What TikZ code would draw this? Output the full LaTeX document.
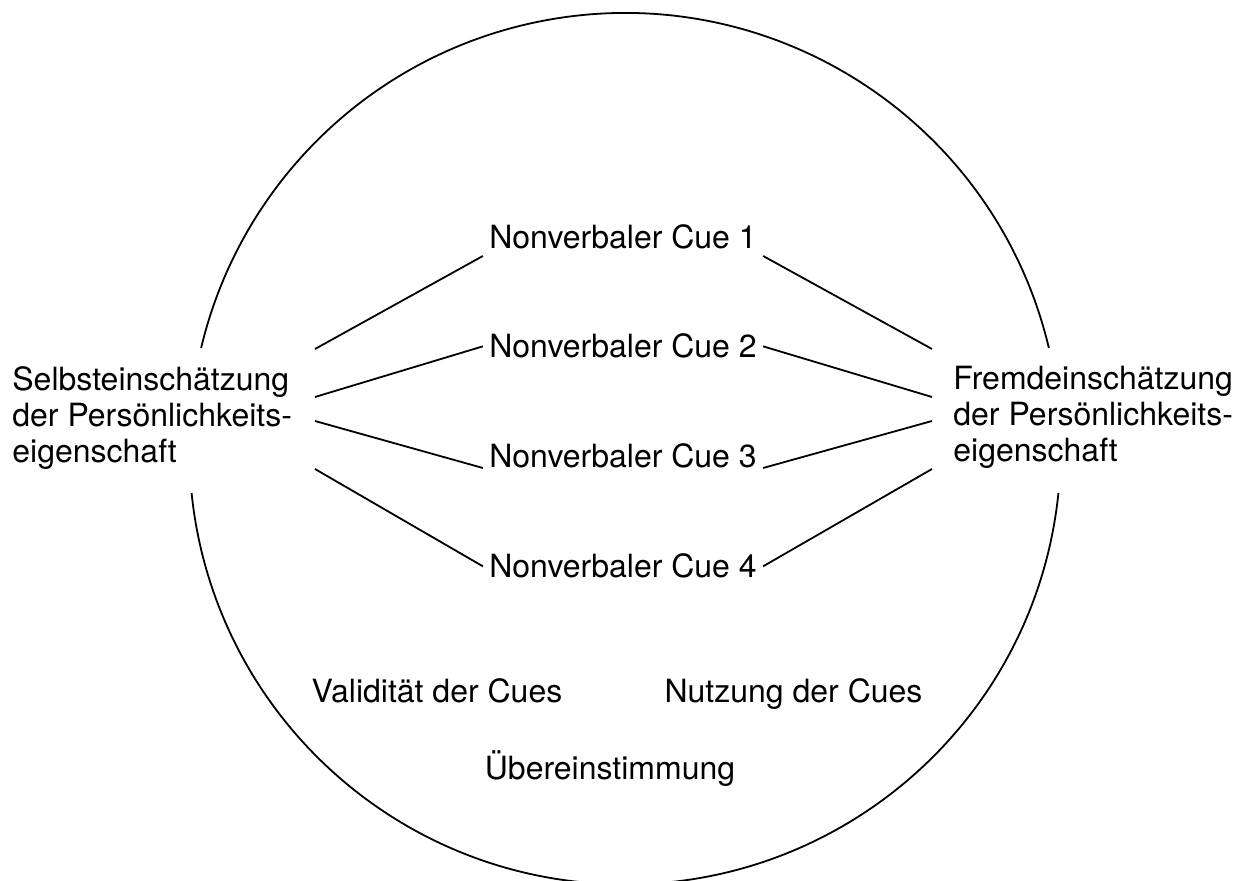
\documentclass[tikz,border=0pt]{standalone}
\usepackage{fontspec}
\setmainfont{TeX Gyre Heros}
\usetikzlibrary{positioning}
\tikzset{
  cue/.style={inner xsep=3pt,inner ysep=3pt,anchor=base},
  side/.style={align=left,inner sep=0pt,anchor=north west},
  lab/.style={inner sep=0pt,anchor=base},
  link/.style={line width=0.9pt},
  rim/.style={line width=0.9pt},
}
\begin{document}
\begin{tikzpicture}[x=0.5pt,y=-0.5pt,font=\fontsize{16}{18}\selectfont]
  \useasboundingbox (0,0) rectangle (1243,881);
  \clip (0,0) rectangle (1243,881);
  \coordinate (ctr) at (625,448.7);
  % lens circle, open where the two ratings sit
  \draw[rim] ([shift={(-13.36:435.7)}]ctr) arc[start angle=-13.36,end angle=-166.64,radius=435.7];
  \draw[rim] ([shift={(5.84:435.7)}]ctr) arc[start angle=5.84,end angle=174.16,radius=435.7];

  \node[side] (self) at (12,366) {Selbsteinschätzung\\der Persönlichkeits-\\eigenschaft};
  \node[side] (other) at (953,366) {Fremdeinschätzung\\der Persönlichkeits-\\eigenschaft};

  \foreach \i/\y in {1/249,2/358,3/468,4/578}
    \node[cue] (cue\i) at (623,\y) {Nonverbaler Cue \i};

  \node[lab] (valid) at (437,703) {Validität der Cues};
  \node[lab] (use) at (793.5,703) {Nutzung der Cues};
  \node[lab] (agree) at (610,780) {Übereinstimmung};

  % line ends beside the two ratings
  \foreach \i/\y in {1/349,2/397,3/421,4/469}{
    \coordinate (s\i) at (315,\y);
    \coordinate (o\i) at (932,\y);
  }
  \draw[link] (s1) -- (cue1.south west); \draw[link] (cue1.south east) -- (o1);
  \draw[link] (s2) -- (cue2.west);       \draw[link] (cue2.east) -- (o2);
  \draw[link] (s3) -- (cue3.base west);  \draw[link] (cue3.base east) -- (o3);
  \draw[link] (s4) -- (cue4.west);       \draw[link] (cue4.east) -- (o4);
\end{tikzpicture}
\end{document}
